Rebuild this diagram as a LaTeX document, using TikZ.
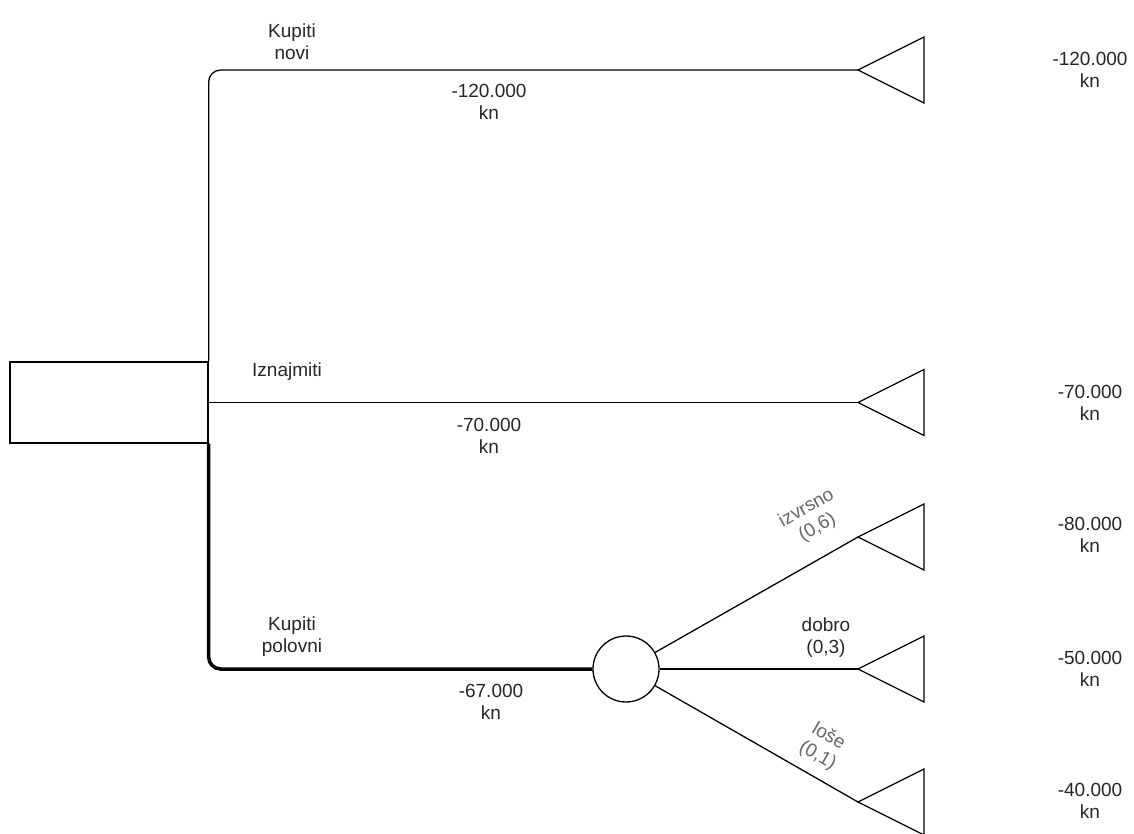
\documentclass[tikz,border=0pt]{standalone}
\usepackage{fontspec}
\setmainfont{Liberation Sans}
\usetikzlibrary{positioning}

\begin{document}
\begin{tikzpicture}[x=1pt,y=-1pt,
    txt/.style={align=center, text=black!85, font=\fontsize{19}{22}\selectfont, inner sep=1pt},
    prob/.style={txt, text=black!60},
    branch/.style={line width=1.3pt, rounded corners=12pt},
    best/.style={line width=3.5pt, rounded corners=12pt},
    endtri/.style={line width=1.3pt, line join=miter}]
  \useasboundingbox (0,0) rectangle (1134,833);
  \begin{scope}
  \clip (0,0) rectangle (1134,833);

  % the decision and chance nodes
  \node[draw, line width=1.3pt, minimum width=198pt, minimum height=81pt, inner sep=0pt] (dec) at (109,402.5) {};
  \node[draw, line width=1.3pt, circle, minimum size=66pt, inner sep=0pt] (ch) at (626,669) {};

  % the end points (tips of the triangles)
  \coordinate (e1) at (858,70);
  \coordinate (e2) at (858,402.5);
  \coordinate (e3) at (858,537);
  \coordinate (e4) at (858,669);
  \coordinate (e5) at (858,802);

  % draw the triangles
  \foreach \e in {e1,e2,e3,e4,e5}
    \draw[endtri] (\e) -- ++(66,-33) -- ++(0,66) -- cycle;

  % draw the branches
  \draw[branch] (dec.north east) -- (dec.north east |- e1) -- (e1);
  \draw[branch] (dec.east) -- (e2);
  \draw[best] (dec.south east) -- (dec.south east |- ch) -- (ch.west);
  \draw[branch] (ch) -- (e3);
  \draw[branch] (ch.east) -- (e4);
  \draw[branch] (ch) -- (e5);
  \end{scope}

  % the texts on the branches
  \node[txt] (kn1) at (292,42) {Kupiti\\novi};
  \node[txt] (cn1) at (489,102) {-120.000\\kn};
  \node[txt] (kn2) at (287,372) {Iznajmiti};
  \node[txt] (cn2) at (489,436) {-70.000\\kn};
  \node[txt] (kn3) at (292,637) {Kupiti\\polovni};
  \node[txt] (cn3) at (491,702) {-67.000\\kn};
  \node[prob, rotate=29.6] (p1) at (812,518) {izvrsno\\(0,6)};
  \node[txt] (p2) at (826,638) {dobro\\(0,3)};
  \node[prob, rotate=-29.8] (p3) at (823,746) {loše\\(0,1)};

  % the values at the ends
  \node[txt] (v1) at (1090,70) {-120.000\\kn};
  \node[txt] (v2) at (1090,403) {-70.000\\kn};
  \node[txt] (v3) at (1090,535) {-80.000\\kn};
  \node[txt] (v4) at (1090,669) {-50.000\\kn};
  \node[txt] (v5) at (1090,801) {-40.000\\kn};
\end{tikzpicture}
\end{document}
